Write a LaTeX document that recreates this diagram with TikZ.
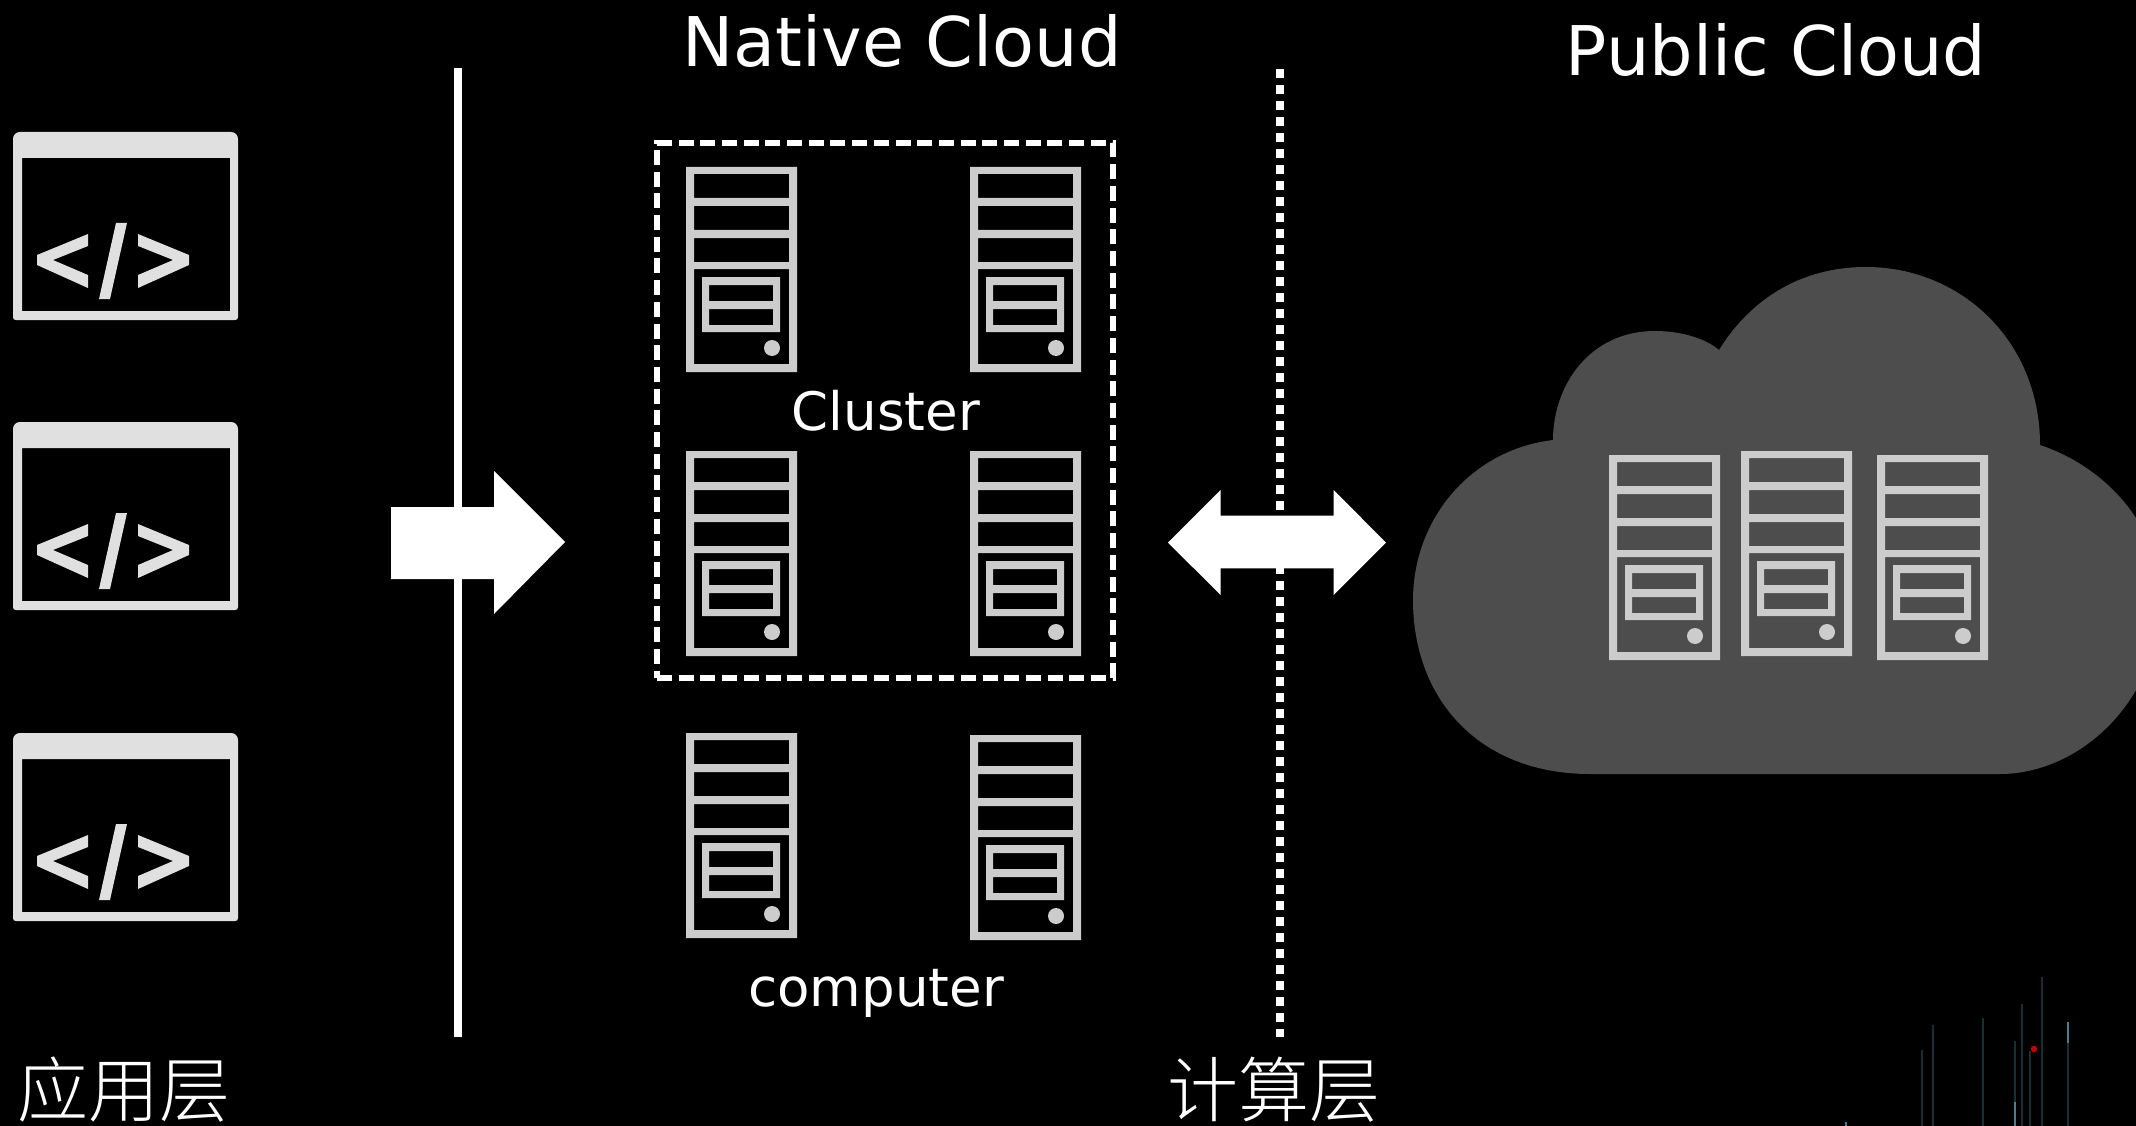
\documentclass[tikz,border=0pt]{standalone}
\usepackage{fontspec}
\setmainfont{DejaVu Sans}
\newfontfamily\cjk[UprightFont={* Light}]{Noto Sans CJK SC}
\tikzset{
  x=1pt,y=-1pt,
  srv/.style={fill=srvgray,even odd rule,draw=none},
  win/.style={fill=wingray,draw=none},
  lab/.style={text=white,inner sep=0pt,outer sep=0pt,anchor=center},
  arrowshape/.style={fill=white,draw=none},
  streak/.style={draw=streakdark,line width=2.4pt},
  streakhi/.style={draw=streaklight,line width=2.8pt},
  server/.pic={
    \path[srv] (0,0) rectangle (111,205)
      (8,7) rectangle (103,31)
      (8,39) rectangle (103,63)
      (8,71) rectangle (103,95)
      (8,102) rectangle (103,197)
      (16,110) rectangle (94,165)
      (23,118) rectangle (87,134)
      (23,142) rectangle (87,158);
    \path[fill=srvgray] (86,181) circle (8);
  },
  codewin/.pic={
    \path[win,even odd rule] (13,139) .. controls (13,135) and (16,132) .. (20,132) -- (231,132)
       .. controls (235,132) and (238,135) .. (238,139) -- (238,317) .. controls (238,319) and (237,320) .. (235,320)
       -- (16,320) .. controls (14,320) and (13,319) .. (13,317) -- cycle
       (22,158) rectangle (230,311);
    \path[win] (88,234) -- (88,246) -- (53,260) -- (88,275) -- (88,288) -- (37,265) -- (37,255) -- cycle;
    \path[win] (116,223) -- (127,223) -- (110,299) -- (99,299) -- cycle;
    \path[win] (138,234) -- (138,246) -- (173,260) -- (138,275) -- (138,288) -- (189,265) -- (189,255) -- cycle;
  }
}
\definecolor{srvgray}{HTML}{CCCCCC}
\definecolor{wingray}{HTML}{E0E0E0}
\definecolor{cloudgray}{HTML}{4D4D4D}
\definecolor{streakdark}{HTML}{1B2C33}
\definecolor{streaklight}{HTML}{507B89}
\begin{document}
\begin{tikzpicture}
\path[clip] (0,0) rectangle (2136,1126);
\fill[black] (0,0) rectangle (2136,1126);
% windows
\pic at (0,0) {codewin};
\pic at (0,290) {codewin};
\pic at (0,601) {codewin};
% divider lines
\coordinate (solidtop) at (458,68);
\coordinate (solidbot) at (458,1037);
\coordinate (dottop) at (1280,69.3);
\coordinate (dotbot) at (1280,1037);
\draw[white,line width=8pt] (solidtop) -- (solidbot);
\draw[white,line width=8.5pt,dash pattern=on 8.5pt off 7.5pt] (dottop) -- (dotbot);
% dashed cluster
\node[draw=white,line width=5.2pt,dash pattern=on 15pt off 6.7pt,minimum width=456pt,minimum height=535pt,inner sep=0pt,outer sep=0pt,anchor=north west] (cluster) at (657,143) {};
% servers
\pic at (686,167) {server};
\pic at (970,167) {server};
\pic at (686,451) {server};
\pic at (970,451) {server};
\pic at (686,733) {server};
\pic at (970,735) {server};
% cloud
\fill[cloudgray] (1590,774) .. controls (1480,774) and (1413,700) .. (1413,600)
  .. controls (1413,520) and (1470,450) .. (1553,440)
  .. controls (1553,385) and (1590,331) .. (1655,331)
  .. controls (1680,331) and (1705,338) .. (1719,350)
  .. controls (1750,300) and (1800,267) .. (1866,267)
  .. controls (1960,267) and (2040,340) .. (2040,445)
  .. controls (2100,465) and (2160,520) .. (2160,600)
  .. controls (2160,700) and (2080,774) .. (2000,774) -- cycle;
\pic at (1609,455) {server};
\pic at (1741,451) {server};
\pic at (1877,455) {server};
% arrows
\path[arrowshape] (391,507) -- (494,507) -- (494,471) -- (565,542) -- (494,614) -- (494,579) -- (391,579) -- cycle;
\path[arrowshape] (1168,542.7) -- (1220.7,490) -- (1220.7,515.7) -- (1333.7,515.7) -- (1333.7,490) -- (1386,542.7) -- (1333.7,595) -- (1333.7,568.3) -- (1220.7,568.3) -- (1220.7,595) -- cycle;
% streaks
\draw[streak] (1922,1050) -- (1922,1126);
\draw[streak] (1933,1025) -- (1933,1126);
\draw[streak] (1983,1018) -- (1983,1126);
\draw[streak] (2015,1041) -- (2015,1126);
\draw[streak] (2022,1004) -- (2022,1126);
\draw[streak] (2030,1051) -- (2030,1126);
\draw[streak] (2042,977) -- (2042,1126);
\draw[streak] (2068,1022) -- (2068,1126);
\draw[streakhi] (2015,1102) -- (2015,1126);
\draw[streakhi] (2068,1022) -- (2068,1043);
\draw[streakhi] (1846,1122) -- (1846,1126);
\fill[red!80!black] (2034,1049) circle (3.2);
% labels
\node[lab,font=\fontsize{68.5}{68.5}\selectfont] (native) at (902,41) {Native Cloud};
\node[lab,font=\fontsize{68.5}{68.5}\selectfont] (public) at (1776,50) {Public Cloud};
\node[lab,font=\fontsize{53}{53}\selectfont] (clusterlab) at (886,411) {Cluster};
\node[lab,font=\fontsize{53}{53}\selectfont] (computer) at (876,993) {computer};
\node[lab,font=\cjk\fontsize{71}{71}\selectfont] (app) at (124,1090) {应用层};
\node[lab,font=\cjk\fontsize{71}{71}\selectfont] (comp) at (1274,1090) {计算层};
\end{tikzpicture}
\end{document}
